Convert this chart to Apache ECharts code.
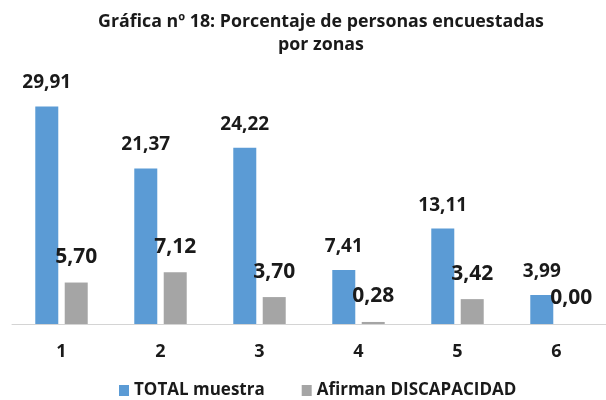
<!DOCTYPE html>
<html lang="es">
<head>
  <meta charset="UTF-8">
  <title>Gráfica nº 18</title>
  <script src="https://cdn.jsdelivr.net/npm/echarts@6/dist/echarts.min.js"></script>
  <style>
    body { margin: 0; background: #fff; }
    #chart { width: 606px; height: 400px; }
  </style>
</head>
<body>
<div id="chart"></div>
<script>
  var zonas = ['1', '2', '3', '4', '5', '6'];
  var totalMuestra = [29.91, 21.37, 24.22, 7.41, 13.11, 3.99];
  var afirmanDiscapacidad = [5.70, 7.12, 3.70, 0.28, 3.42, 0.00];

  var font = '"Open Sans", Lato, sans-serif';

  function fmt(p) { return p.value.toFixed(2).replace('.', ','); }

  var chart = echarts.init(document.getElementById('chart'));

  var option = {
    animation: false,
    graphic: [{
      type: 'text',
      x: 321,
      y: 10,
      style: {
        text: 'Gráfica nº 18: Porcentaje de personas encuestadas\npor zonas',
        align: 'center',
        verticalAlign: 'top',
        fontFamily: font,
        fontWeight: 'bold',
        fontSize: 17.8,
        lineHeight: 23,
        fill: '#1a1a1a'
      }
    }],
    legend: {
      bottom: -4,
      left: 114,
      itemWidth: 10,
      itemHeight: 11,
      itemGap: 37,
      icon: 'rect',
      textStyle: { fontFamily: font, fontSize: 17, fontWeight: 'bold', color: '#1a1a1a' }
    },
    grid: { left: 12, top: 33, width: 604, height: 291 },
    xAxis: {
      type: 'category',
      data: zonas,
      axisLine: { lineStyle: { color: '#d4d4d4', width: 1 } },
      axisTick: { show: false },
      axisLabel: { margin: 19, fontFamily: font, fontSize: 18, fontWeight: 'bold', color: '#1a1a1a' }
    },
    yAxis: {
      type: 'value',
      min: 0,
      max: 40,
      show: false,
      splitLine: { show: false }
    },
    series: [
      {
        name: 'TOTAL muestra',
        type: 'bar',
        barWidth: 23,
        barGap: '28%',
        itemStyle: { color: '#5B9BD5' },
        label: {
          show: true,
          position: 'top',
          distance: 14,
          formatter: fmt,
          fontFamily: font, fontSize: 19, fontWeight: 'bold', color: '#1a1a1a'
        },
        data: totalMuestra
      },
      {
        name: 'Afirman DISCAPACIDAD',
        type: 'bar',
        barWidth: 23,
        barGap: '28%',
        itemStyle: { color: '#A5A5A5' },
        label: {
          show: true,
          position: 'top',
          distance: 15,
          formatter: fmt,
          fontFamily: font, fontSize: 21, fontWeight: 'bold', color: '#1a1a1a'
        },
        data: afirmanDiscapacidad
      }
    ]
  };

  chart.setOption(option);
</script>
</body>
</html>
